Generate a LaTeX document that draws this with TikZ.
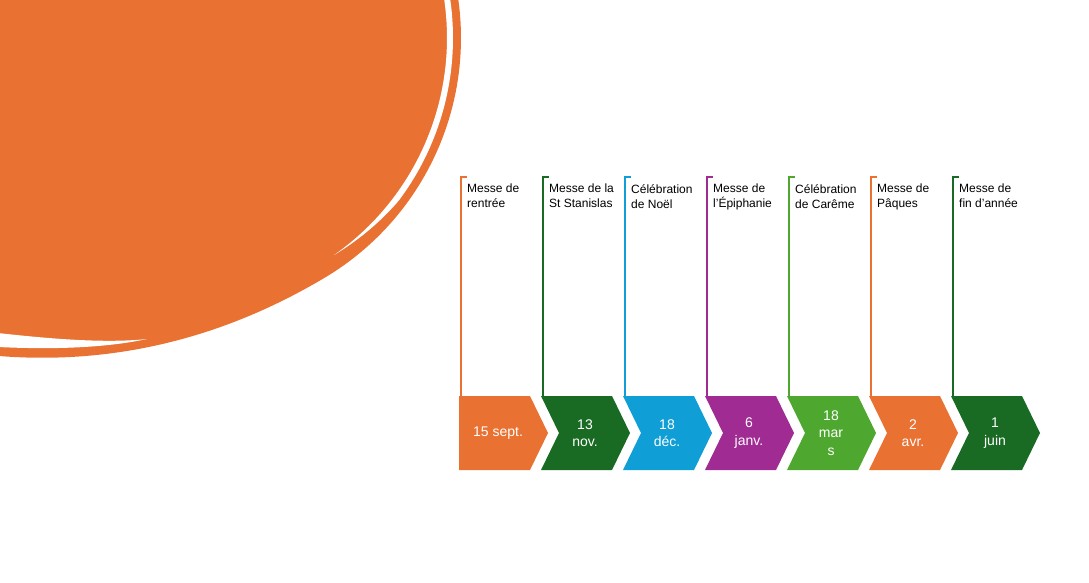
\documentclass[tikz,border=0pt]{standalone}
\usepackage{fontspec}
\setmainfont{Liberation Sans}

\definecolor{orangeA}{HTML}{E97132}
\definecolor{greenA}{HTML}{196B24}
\definecolor{blueA}{HTML}{0F9ED5}
\definecolor{purpleA}{HTML}{A02B93}
\definecolor{greenB}{HTML}{4EA72E}

\tikzset{
  datetext/.style={text=white, align=center, inner sep=0pt,
    font=\fontsize{14}{17.5}\selectfont},
  evlabel/.style={anchor=north west, align=left, inner sep=0pt,
    font=\fontsize{12}{15}\selectfont},
  stem/.style={line width=2pt},
}

\begin{document}
\begin{tikzpicture}[x=1pt,y=-1pt]

      \useasboundingbox (0,0) rectangle (1089,583) ;

      % orange blob with its ring
      \fill [orangeA] (-1,-1) -- plot [domain=-8:60, samples=50] ({182+279*cos(\x)},{38+279*sin(\x)}) .. controls (261,315) and (150,368) .. (-1,356) -- cycle ;
      \fill [white] plot [domain=-9:55, samples=60] ({182+(265+6*min(1,(55-\x)/18))*cos(\x)},{38+(265+6*min(1,(55-\x)/18))*sin(\x)}) -- plot [domain=55:-9, samples=60] ({182+265*cos(\x)},{38+265*sin(\x)}) -- cycle ;
      \fill [white] (-2,333) .. controls (60,340) and (110,343) .. (147,339) .. controls (110,347) and (60,350) .. (-2,347) -- cycle ;

      % stems
      \coordinate (s1) at (460.5,396) ; \coordinate (t1) at (460.5,177) ;
      \coordinate (s2) at (542.5,396) ; \coordinate (t2) at (542.5,177) ;
      \coordinate (s3) at (624.5,396) ; \coordinate (t3) at (624.5,177) ;
      \coordinate (s4) at (706.5,396) ; \coordinate (t4) at (706.5,177) ;
      \coordinate (s5) at (788.5,396) ; \coordinate (t5) at (788.5,177) ;
      \coordinate (s6) at (870.5,396) ; \coordinate (t6) at (870.5,177) ;
      \coordinate (s7) at (952.5,396) ; \coordinate (t7) at (952.5,177) ;

      \draw [stem, orangeA] (s1) -- (t1) -- ++(6,0) ;
      \draw [stem, greenA] (s2) -- (t2) -- ++(6,0) ;
      \draw [stem, blueA] (s3) -- (t3) -- ++(6,0) ;
      \draw [stem, purpleA] (s4) -- (t4) -- ++(6,0) ;
      \draw [stem, greenB] (s5) -- (t5) -- ++(6,0) ;
      \draw [stem, orangeA] (s6) -- (t6) -- ++(6,0) ;
      \draw [stem, greenA] (s7) -- (t7) -- ++(6,0) ;

      % chevrons
      \fill [orangeA] (459,396) -- (530,396) -- (548,433) -- (530,470) -- (459,470) -- cycle ;
      \fill [greenA] (541,396) -- (612,396) -- (630,433) -- (612,470) -- (541,470) -- (559,433) -- cycle ;
      \fill [blueA] (623,396) -- (694,396) -- (712,433) -- (694,470) -- (623,470) -- (641,433) -- cycle ;
      \fill [purpleA] (705,396) -- (776,396) -- (794,433) -- (776,470) -- (705,470) -- (723,433) -- cycle ;
      \fill [greenB] (787,396) -- (858,396) -- (876,433) -- (858,470) -- (787,470) -- (805,433) -- cycle ;
      \fill [orangeA] (869,396) -- (940,396) -- (958,433) -- (940,470) -- (869,470) -- (887,433) -- cycle ;
      \fill [greenA] (951,396) -- (1022,396) -- (1040,433) -- (1022,470) -- (951,470) -- (969,433) -- cycle ;

      \node [datetext] (d1) at (498,433) {15 sept.} ;
      \node [datetext] (d2) at (585,433) {13\\nov.} ;
      \node [datetext] (d3) at (667,433) {18\\déc.} ;
      \node [datetext] (d4) at (749,433) {6\\janv.} ;
      \node [datetext] (d5) at (831,433) {18\\mar\\s} ;
      \node [datetext] (d6) at (913,433) {2\\avr.} ;
      \node [datetext] (d7) at (995,433) {1\\juin} ;

      % labels
      \node [evlabel] (l1) at (467,184) {Messe de\\rentrée} ;
      \node [evlabel] (l2) at (549,184) {Messe de la\\St Stanislas} ;
      \node [evlabel] (l3) at (631,184) {Célébration\\de Noël} ;
      \node [evlabel] (l4) at (713,184) {Messe de\\l'Épiphanie} ;
      \node [evlabel] (l5) at (795,184) {Célébration\\de Carême} ;
      \node [evlabel] (l6) at (877,184) {Messe de\\Pâques} ;
      \node [evlabel] (l7) at (959,184) {Messe de\\fin d'année} ;

\end{tikzpicture}
\end{document}
